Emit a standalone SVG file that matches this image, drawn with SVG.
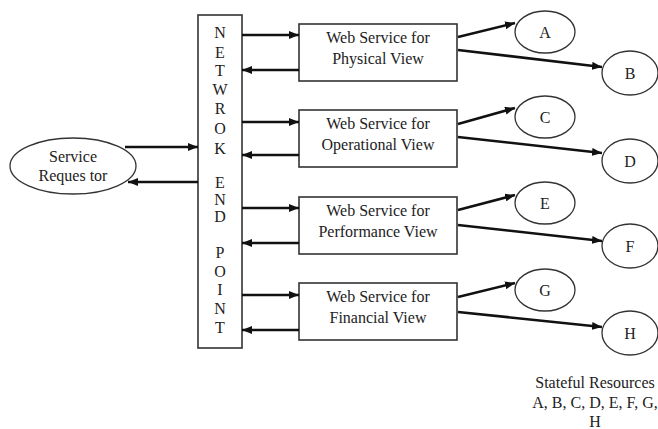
<svg xmlns="http://www.w3.org/2000/svg" width="658" height="429" viewBox="0 0 658 429">
<defs>
<marker id="ah" viewBox="0 0 10 8" refX="10" refY="4" markerWidth="10" markerHeight="8" markerUnits="userSpaceOnUse" orient="auto">
<path d="M0,0 L10,4 L0,8 Z" fill="#111"/>
</marker>
<style>
.box{fill:#fff;stroke:#333;stroke-width:1.6}
.ell{fill:#fff;stroke:#333;stroke-width:1.3}
.t{font-family:"Liberation Serif","Times New Roman",serif;font-size:16px;fill:#222;text-anchor:middle}
.nl{font-family:"Liberation Serif","Times New Roman",serif;font-size:16px;fill:#222;text-anchor:middle}
.c{fill:none;stroke:#111;stroke-width:2.6;marker-end:url(#ah)}
</style>
</defs>
<rect width="658" height="429" fill="#fff"/>
<g id="requestor">
<ellipse class="ell" cx="73" cy="166" rx="63" ry="28"/>
<text class="t" x="73" y="162">Service</text>
<text class="t" x="73" y="181">Reques tor</text>
</g>
<g id="network-end-point">
<rect class="box" x="198" y="15" width="44" height="333"/>
<text class="nl" x="220" y="38">N</text>
<text class="nl" x="220" y="58">E</text>
<text class="nl" x="220" y="76">T</text>
<text class="nl" x="220" y="95">W</text>
<text class="nl" x="220" y="114">R</text>
<text class="nl" x="220" y="134">O</text>
<text class="nl" x="220" y="154">K</text>
<text class="nl" x="220" y="188">E</text>
<text class="nl" x="220" y="205">N</text>
<text class="nl" x="220" y="222">D</text>
<text class="nl" x="220" y="258">P</text>
<text class="nl" x="220" y="277">O</text>
<text class="nl" x="220" y="295">I</text>
<text class="nl" x="220" y="314">N</text>
<text class="nl" x="220" y="333">T</text>
</g>
<g id="ws-physical">
<rect class="box" x="299" y="24" width="158" height="57"/>
<text class="t" x="378" y="43">Web Service for</text>
<text class="t" x="378" y="64">Physical View</text>
</g>
<g id="ws-operational">
<rect class="box" x="299" y="110" width="158" height="57"/>
<text class="t" x="378" y="129">Web Service for</text>
<text class="t" x="378" y="150">Operational View</text>
</g>
<g id="ws-performance">
<rect class="box" x="299" y="197" width="158" height="57"/>
<text class="t" x="378" y="216">Web Service for</text>
<text class="t" x="378" y="237">Performance View</text>
</g>
<g id="ws-financial">
<rect class="box" x="299" y="283" width="158" height="57"/>
<text class="t" x="378" y="302">Web Service for</text>
<text class="t" x="378" y="323">Financial View</text>
</g>
<g id="res-A"><ellipse class="ell" cx="545" cy="32" rx="30" ry="21"/><text class="t" x="545" y="38">A</text></g>
<g id="res-B"><ellipse class="ell" cx="630" cy="73" rx="28" ry="22"/><text class="t" x="630" y="79">B</text></g>
<g id="res-C"><ellipse class="ell" cx="545" cy="117" rx="30" ry="21"/><text class="t" x="545" y="123">C</text></g>
<g id="res-D"><ellipse class="ell" cx="630" cy="161" rx="28" ry="22"/><text class="t" x="630" y="167">D</text></g>
<g id="res-E"><ellipse class="ell" cx="545" cy="203" rx="30" ry="21"/><text class="t" x="545" y="209">E</text></g>
<g id="res-F"><ellipse class="ell" cx="630" cy="246" rx="28" ry="22"/><text class="t" x="630" y="252">F</text></g>
<g id="res-G"><ellipse class="ell" cx="545" cy="290" rx="30" ry="21"/><text class="t" x="545" y="296">G</text></g>
<g id="res-H"><ellipse class="ell" cx="630" cy="333" rx="28" ry="22"/><text class="t" x="630" y="339">H</text></g>
<g id="connectors">
<line class="c" x1="125" y1="147" x2="198" y2="147"/>
<line class="c" x1="198" y1="182" x2="128" y2="182"/>
<line class="c" x1="242" y1="35" x2="299" y2="35"/>
<line class="c" x1="299" y1="70" x2="242" y2="70"/>
<line class="c" x1="242" y1="122" x2="299" y2="122"/>
<line class="c" x1="299" y1="155" x2="242" y2="155"/>
<line class="c" x1="242" y1="208" x2="299" y2="208"/>
<line class="c" x1="299" y1="243" x2="242" y2="243"/>
<line class="c" x1="242" y1="295" x2="299" y2="295"/>
<line class="c" x1="299" y1="330" x2="242" y2="330"/>
<line class="c" x1="458" y1="37" x2="515" y2="23"/>
<line class="c" x1="458" y1="50" x2="602" y2="67"/>
<line class="c" x1="458" y1="124" x2="515" y2="108"/>
<line class="c" x1="458" y1="137" x2="602" y2="153"/>
<line class="c" x1="458" y1="210" x2="515" y2="195"/>
<line class="c" x1="458" y1="225" x2="602" y2="241"/>
<line class="c" x1="458" y1="297" x2="515" y2="283"/>
<line class="c" x1="458" y1="312" x2="602" y2="327"/>
</g>
<g id="caption">
<text class="t" x="595" y="388">Stateful Resources</text>
<text class="t" x="595" y="408">A, B, C, D, E, F, G,</text>
<text class="t" x="595" y="427">H</text>
</g>
</svg>
